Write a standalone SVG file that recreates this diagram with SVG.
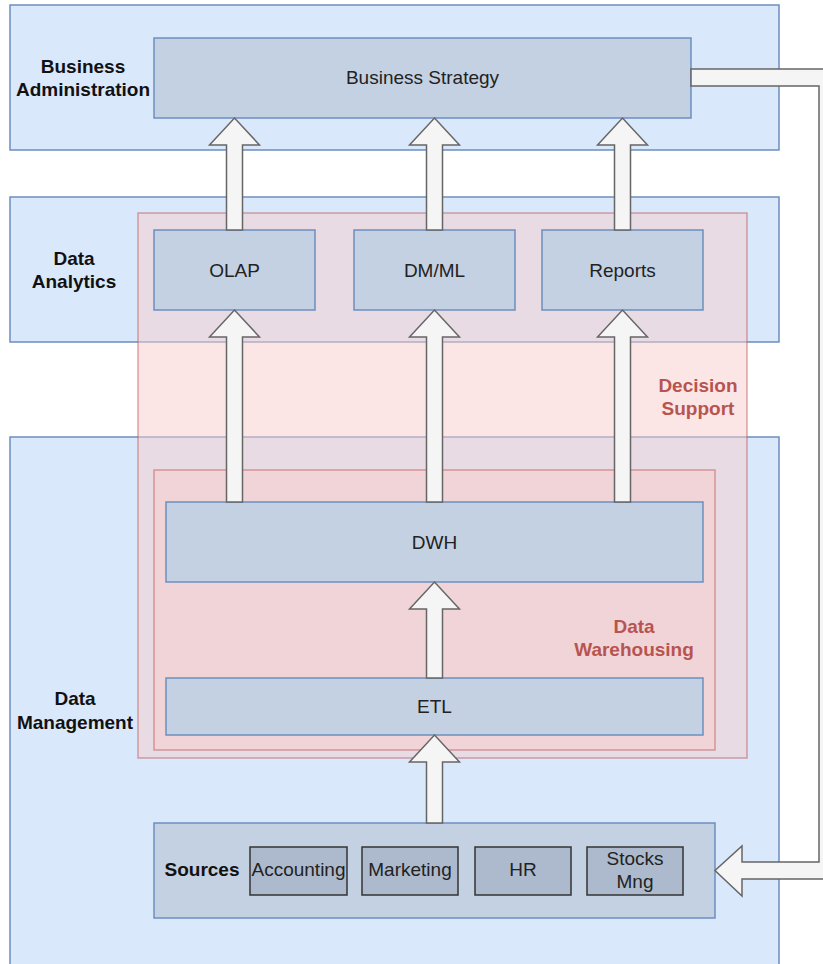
<svg xmlns="http://www.w3.org/2000/svg" width="823" height="964" viewBox="0 0 823 964">
<style>
.lane{fill:#dae8fc;stroke:#6c8ebf;stroke-width:1.5}
.zone{fill:#f8cecc;fill-opacity:0.5;stroke:#b85450;stroke-opacity:0.5;stroke-width:1.5}
.box{fill:#c4d1e2;stroke:#6c8ebf;stroke-width:1.5}
.src{fill:#adbacd;stroke:#333333;stroke-width:1.5}
.arrow{fill:#f5f5f5;stroke:#666666;stroke-width:1.5;stroke-linejoin:miter}
text{font-family:"Liberation Sans",Arial,Helvetica,sans-serif;font-size:19px;fill:#222222;text-anchor:middle}
.lbl{font-weight:bold;fill:#111111}
.red{font-weight:bold;fill:#b85450}
</style>
<rect width="823" height="964" fill="#ffffff"/>
<g id="lane-business-administration">
<rect class="lane" x="10" y="5" width="769" height="145"/>
<text class="lbl" x="83" y="72.5">Business</text>
<text class="lbl" x="83" y="96">Administration</text>
</g>
<g id="lane-data-analytics">
<rect class="lane" x="10" y="197" width="769" height="145"/>
<text class="lbl" x="74" y="264.5">Data</text>
<text class="lbl" x="74" y="288">Analytics</text>
</g>
<g id="lane-data-management">
<rect class="lane" x="10" y="437" width="769" height="540"/>
<text class="lbl" x="75" y="705">Data</text>
<text class="lbl" x="75" y="728.5">Management</text>
</g>
<g id="decision-support">
<rect class="zone" x="138" y="213" width="609" height="545"/>
<text class="red" x="698" y="392">Decision</text>
<text class="red" x="698" y="415">Support</text>
</g>
<g id="data-warehousing">
<rect class="zone" x="154" y="470" width="561" height="280"/>
<text class="red" x="634" y="633">Data</text>
<text class="red" x="634" y="656">Warehousing</text>
</g>
<g id="business-strategy">
<rect class="box" x="154" y="38" width="537" height="80"/>
<text x="422.5" y="84">Business Strategy</text>
</g>
<g id="olap">
<rect class="box" x="154" y="230" width="161" height="80"/>
<text x="234.5" y="277">OLAP</text>
</g>
<g id="dm-ml">
<rect class="box" x="354" y="230" width="161" height="80"/>
<text x="434.5" y="277">DM/ML</text>
</g>
<g id="reports">
<rect class="box" x="542" y="230" width="161" height="80"/>
<text x="622.5" y="277">Reports</text>
</g>
<g id="dwh">
<rect class="box" x="166" y="502" width="537" height="80"/>
<text x="434.5" y="549">DWH</text>
</g>
<g id="etl">
<rect class="box" x="166" y="678" width="537" height="57"/>
<text x="434.5" y="713">ETL</text>
</g>
<g id="sources">
<rect class="box" x="154" y="823" width="561" height="95"/>
<text class="lbl" x="202" y="876">Sources</text>
<rect class="src" x="250" y="847" width="97" height="48"/>
<text x="298.5" y="876">Accounting</text>
<rect class="src" x="362" y="847" width="96" height="48"/>
<text x="410" y="876">Marketing</text>
<rect class="src" x="475" y="847" width="96" height="48"/>
<text x="523" y="876">HR</text>
<rect class="src" x="587" y="847" width="96" height="48"/>
<text x="635" y="865">Stocks</text>
<text x="635" y="888">Mng</text>
</g>
<g id="connectors">
<path class="arrow" d="M226.5,230 L226.5,145 L209.5,145 L234.5,118 L259.5,145 L242.5,145 L242.5,230 Z"/>
<path class="arrow" d="M426.5,230 L426.5,145 L409.5,145 L434.5,118 L459.5,145 L442.5,145 L442.5,230 Z"/>
<path class="arrow" d="M614.5,230 L614.5,145 L597.5,145 L622.5,118 L647.5,145 L630.5,145 L630.5,230 Z"/>
<path class="arrow" d="M226.5,502 L226.5,337 L209.5,337 L234.5,310 L259.5,337 L242.5,337 L242.5,502 Z"/>
<path class="arrow" d="M426.5,502 L426.5,337 L409.5,337 L434.5,310 L459.5,337 L442.5,337 L442.5,502 Z"/>
<path class="arrow" d="M614.5,502 L614.5,337 L597.5,337 L622.5,310 L647.5,337 L630.5,337 L630.5,502 Z"/>
<path class="arrow" d="M426.5,678 L426.5,609 L409.5,609 L434.5,582 L459.5,609 L442.5,609 L442.5,678 Z"/>
<path class="arrow" d="M426.5,823 L426.5,762 L409.5,762 L434.5,735 L459.5,762 L442.5,762 L442.5,823 Z"/>
<path class="arrow" d="M691,69 L835,69 L835,879 L742,879 L742,896 L715,870.5 L742,846 L742,862 L819,862 L819,86 L691,86 Z"/>
</g>
</svg>
